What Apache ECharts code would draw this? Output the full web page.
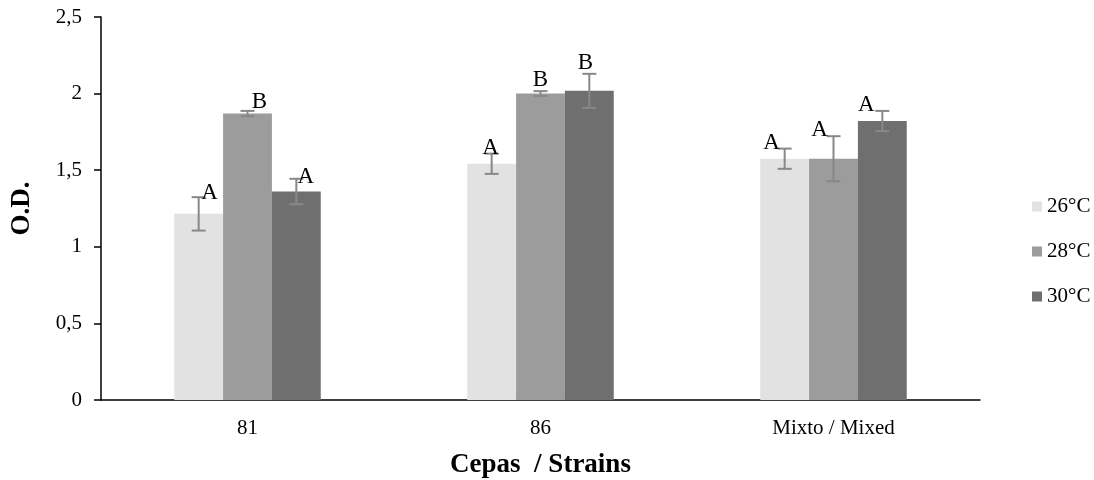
<!DOCTYPE html>
<html>
<head>
<meta charset="utf-8">
<script src="https://cdn.jsdelivr.net/npm/echarts@6/dist/echarts.min.js"></script>
<style>html,body{margin:0;padding:0;background:#fff}#c{width:1094px;height:480px}</style>
</head>
<body>
<div id="c"></div>
<script>
const categories = ['81', '86', 'Mixto / Mixed'];
const seriesNames = ['26°C', '28°C', '30°C'];
const values26 = [1.215, 1.542, 1.575];
const values28 = [1.870, 2.000, 1.575];
const values30 = [1.361, 2.018, 1.821];
const errors26 = [0.109, 0.066, 0.066];
const errors28 = [0.017, 0.016, 0.147];
const errors30 = [0.083, 0.111, 0.066];
const letters26 = ['A', 'A', 'A'];
const letters28 = ['B', 'B', 'A'];
const letters30 = ['A', 'B', 'A'];
const yTicks = [0, 0.5, 1, 1.5, 2, 2.5];

const values = [values26, values28, values30];
const errors = [errors26, errors28, errors30];
const letters = [letters26, letters28, letters30];
const colors = ['#e2e2e2', '#9c9c9c', '#6f6f6f'];
// pixel nudges for the significance letters (style only), [category][series]
const letterDx = [[11, 12, 9.5], [-1, 0, -4], [-13, -14, -16]];
const letterDy = [[4, 9, 2], [6, 11.5, 10.5], [6, 6, 6]];

const FONT = '"Liberation Serif", "Times New Roman", serif';
const chart = echarts.init(document.getElementById('c'), null, {renderer: 'canvas'});

const series = [];
seriesNames.forEach((name, si) => {
  series.push({
    name: name,
    type: 'bar',
    data: values[si],
    itemStyle: {color: colors[si]},
    barGap: '0%',
    barCategoryGap: '50%',
    silent: true
  });
});
seriesNames.forEach((name, si) => {
  series.push({
    type: 'custom',
    silent: true,
    z: 10,
    data: categories.map((c, ci) => [ci, values[si][ci], errors[si][ci]]),
    renderItem: function (params, api) {
      const ci = api.value(0);
      const v = api.value(1);
      const e = api.value(2);
      const center = api.coord([ci, v]);
      const bandW = api.size([1, 0])[0];
      const barW = bandW * 0.5 / 3;
      const x = center[0] + (si - 1) * barW;
      const yTop = api.coord([ci, v + e])[1];
      const yBot = api.coord([ci, v - e])[1];
      const cap = 7;
      const st = {stroke: '#888888', lineWidth: 2};
      return {
        type: 'group',
        children: [
          {type: 'line', shape: {x1: x, y1: yTop, x2: x, y2: yBot}, style: st},
          {type: 'line', shape: {x1: x - cap, y1: yTop, x2: x + cap, y2: yTop}, style: st},
          {type: 'line', shape: {x1: x - cap, y1: yBot, x2: x + cap, y2: yBot}, style: st},
          {type: 'text', x: x + letterDx[ci][si], y: yTop - letterDy[ci][si],
            style: {text: letters[si][ci], font: '23px ' + FONT, fill: '#000',
              align: 'center', verticalAlign: 'middle'}}
        ]
      };
    }
  });
});

chart.setOption({
  animation: false,
  backgroundColor: '#fff',
  grid: {left: 101, right: 114, top: 17, bottom: 80, containLabel: false, outerBoundsMode: 'none'},
  legend: {
    data: seriesNames,
    orient: 'vertical',
    left: 1027,
    top: 191,
    itemWidth: 10,
    itemHeight: 10,
    itemGap: 24,
    icon: 'rect',
    textStyle: {fontFamily: FONT, fontSize: 21, color: '#000', lineHeight: 21},
    selectedMode: false
  },
  xAxis: {
    type: 'category',
    data: categories,
    name: 'Cepas  / Strains',
    nameLocation: 'middle',
    nameGap: 52,
    nameTextStyle: {fontFamily: FONT, fontSize: 27, fontWeight: 'bold', color: '#000'},
    axisLine: {lineStyle: {color: '#000', width: 1.5}},
    axisTick: {show: false},
    axisLabel: {fontFamily: FONT, fontSize: 21, color: '#000', margin: 18}
  },
  yAxis: {
    type: 'value',
    min: 0,
    max: 2.5,
    interval: 0.5,
    name: 'O.D.',
    nameLocation: 'middle',
    nameGap: 65,
    nameRotate: 90,
    nameTextStyle: {fontFamily: FONT, fontSize: 27, fontWeight: 'bold', color: '#000'},
    axisLine: {show: true, lineStyle: {color: '#000', width: 1.5}},
    axisTick: {show: true, length: 7, lineStyle: {color: '#000', width: 1.5}},
    splitLine: {show: false},
    axisLabel: {fontFamily: FONT, fontSize: 21, color: '#000', margin: 19,
      formatter: v => String(yTicks.find(t => Math.abs(t - v) < 1e-9) ?? v).replace('.', ',')}
  },
  series: series
});
</script>
</body>
</html>
